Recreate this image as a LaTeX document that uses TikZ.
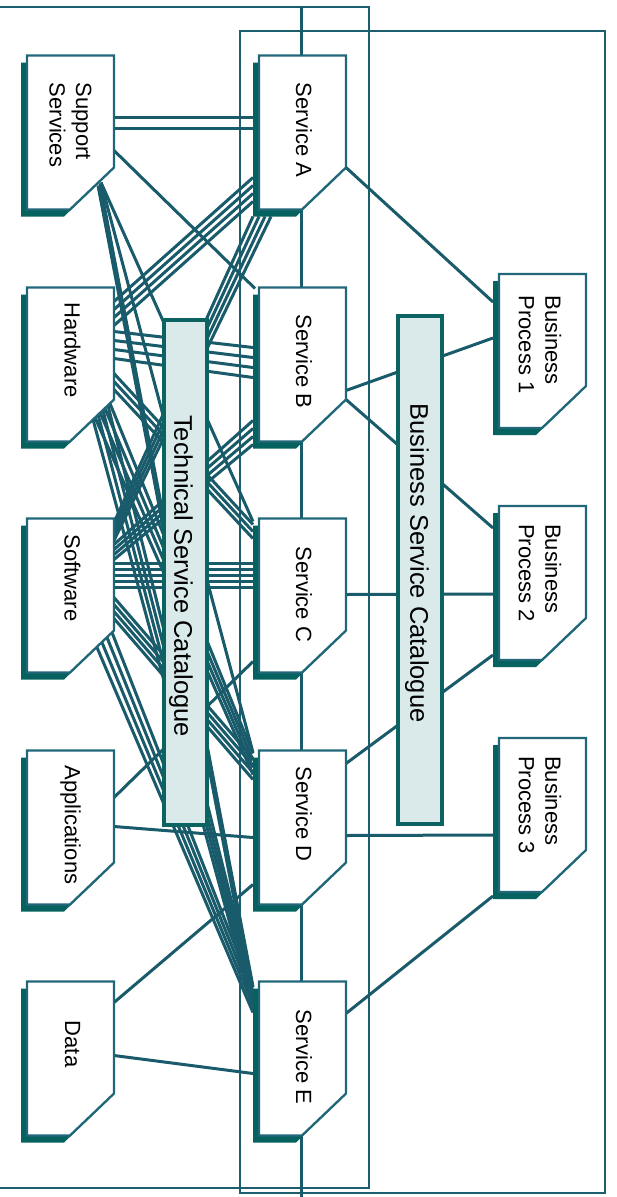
\documentclass[tikz,border=0pt]{standalone}
\usepackage{fontspec}
\setmainfont{Liberation Sans}
\definecolor{linkc}{HTML}{195B6B}
\definecolor{framec}{HTML}{1C5E6C}
\definecolor{edgec}{HTML}{21677A}
\definecolor{shadowc}{HTML}{05625F}
\definecolor{catedge}{HTML}{0B6462}
\definecolor{catfill}{HTML}{DAEAEA}

% chamfered component box with its offset drop shadow
\newcommand{\chamferbox}[1]{%
  \fill[shadowc] ([shift={(-6,7)}]#1.north west) -- ([shift={(-6,7)}]#1.north east)
     -- ([shift={(-6,-35)}]#1.south east) -- ([shift={(-50,7)}]#1.south east)
     -- ([shift={(-6,7)}]#1.south west) -- cycle;
  \draw[edgec,line width=2.3pt,fill=white,line join=miter] (#1.north west) -- (#1.north east)
     -- ([shift={(0,-42)}]#1.south east) -- ([shift={(-44,0)}]#1.south east)
     -- (#1.south west) -- cycle;}

\begin{document}
\begin{tikzpicture}[x=1pt,y=-1pt,
  linkline/.style={draw=linkc,line width=3pt},
  outerframe/.style={draw=framec,line width=2.5pt},
  spineline/.style={draw=linkc,line width=3.3pt},
  compbox/.style={rectangle,inner sep=0pt,outer sep=0pt,minimum width=87pt,minimum height=154pt},
  catbox/.style={rectangle,draw=catedge,line width=4pt,fill=catfill,inner sep=0pt,outer sep=0pt},
  boxtext/.style={rotate=-90,font=\fontsize{22}{26.5}\selectfont,align=left,inner sep=0pt,text=black},
  cattext/.style={rotate=-90,font=\fontsize{25.5}{30}\selectfont,inner sep=0pt,text=black}
]
\useasboundingbox (0,0) rectangle (617,1197);
\fill[white] (0,0) rectangle (617,1197);
\clip (0,0) rectangle (617,1197);

% component placeholders (outlines drawn later, on top of the wiring)
\node[compbox] (ss) at (70.5,132.5) {};
\node[compbox] (hw) at (70.5,364.5) {};
\node[compbox] (sw) at (70.5,595.5) {};
\node[compbox] (ap) at (70.5,827.5) {};
\node[compbox] (dt) at (70.5,1058.5) {};
\node[compbox] (sa) at (302.5,132.5) {};
\node[compbox] (sb) at (302.5,364.5) {};
\node[compbox] (sc) at (302.5,595.5) {};
\node[compbox] (sd) at (302.5,827.5) {};
\node[compbox] (se) at (302.5,1058.5) {};
\node[compbox] (bp1) at (542.5,351) {};
\node[compbox] (bp2) at (542.5,583) {};
\node[compbox] (bp3) at (542.5,815) {};

% grouping frames
\draw[outerframe] (-5,7) rectangle (369,1188);
\draw[outerframe] (240,31) rectangle (605,1193);

% service spine
\coordinate (spinetop) at (301.5,7);
\coordinate (spinebot) at (301.5,1199);
\draw[spineline] (spinetop) -- (spinebot);

% Support Services
\foreach \a in {62,73}
  \draw[linkline] ([shift={(0,\a)}]ss.north east) -- ([shift={(-6,\a)}]sa.north west);
\draw[linkline] ([shift={(0,95)}]ss.north east) -- ([shift={(-4,1)}]sb.north west);
\foreach \a/\b/\t/\c in {-13/-27/sc/3, -13/-27/sd/2, -14/-26/se/5, -16/-24/se/17}
  \draw[linkline] ([shift={(\a,\b)}]ss.south east) -- ([shift={(-6,\c)}]\t.north west);

% Hardware
\foreach \a/\b in {14/122,22/130,30/138,38/146}
  \draw[linkline] ([shift={(0,\a)}]hw.north east) -- ([shift={(-6,\b)}]sa.north west);
\foreach \a/\b in {44/60,53/70,62/80,71/90}
  \draw[linkline] ([shift={(0,\a)}]hw.north east) -- ([shift={(-6,\b)}]sb.north west);
\foreach \a/\b in {86/6,94/13,102/20}
  \draw[linkline] ([shift={(0,\a)}]hw.north east) -- ([shift={(-6,\b)}]sc.north west);
\foreach \a/\b/\c in {-4/-38/3,-9/-33/10,-14/-29/17,-19/-24/24}
  \draw[linkline] ([shift={(\a,\b)}]hw.south east) -- ([shift={(-6,\c)}]sd.north west);
\foreach \a/\b/\c in {-6/-36/6,-11/-31/13,-16/-27/20,-21/-22/27}
  \draw[linkline] ([shift={(\a,\b)}]hw.south east) -- ([shift={(-6,\c)}]se.north west);

% Software
\foreach \a/\b in {4/-6,10/0,16/6,22/12}
  \draw[linkline] ([shift={(0,\a)}]sw.north east) -- ([shift={(\b,7)}]sa.south west);
\foreach \a/\b in {26/133,31/141,36/149,41/157}
  \draw[linkline] ([shift={(0,\a)}]sw.north east) -- ([shift={(-6,\b)}]sb.north west);
\foreach \a in {45,51,57,63,69}
  \draw[linkline] ([shift={(0,\a)}]sw.north east) -- ([shift={(-6,\a)}]sc.north west);
\foreach \a/\b in {79/8,86/15,93/22,100/29}
  \draw[linkline] ([shift={(0,\a)}]sw.north east) -- ([shift={(-6,\b)}]sd.north west);
\foreach \a/\b/\c in {-2/-40/10,-7/-35/17,-12/-30/24,-17/-25/31}
  \draw[linkline] ([shift={(\a,\b)}]sw.south east) -- ([shift={(-6,\c)}]se.north west);

% Applications and Data
\draw[linkline] ([shift={(0,47)}]ap.north east) -- ([shift={(-6,-11)}]sc.south west);
\draw[linkline] ([shift={(0,76)}]ap.north east) -- ([shift={(-6,87)}]sd.north west);
\draw[linkline] ([shift={(0,21)}]dt.north east) -- ([shift={(-6,134)}]sd.north west);
\draw[linkline] ([shift={(0,74)}]dt.north east) -- ([shift={(-6,92)}]se.north west);

% services to business processes
\draw[linkline] ([shift={(0,-42)}]sa.south east) -- ([shift={(-6,28)}]bp1.north west);
\draw[linkline] ([shift={(0,103)}]sb.north east) -- ([shift={(-6,64)}]bp1.north west);
\draw[linkline] ([shift={(0,-42)}]sb.south east) -- ([shift={(-6,22)}]bp2.north west);
\draw[linkline] ([shift={(0,76)}]sc.north east) -- ([shift={(-6,88)}]bp2.north west);
\draw[linkline] ([shift={(0,13)}]sd.north east) -- ([shift={(-6,149)}]bp2.north west);
\draw[linkline] ([shift={(0,85)}]sd.north east) -- ([shift={(-6,97)}]bp3.north west);
\draw[linkline] ([shift={(0,32)}]se.north east) -- ([shift={(-6,4)}]bp3.south west);

% catalogues
\node[catbox,minimum width=43pt,minimum height=505pt] (tsc) at (185.5,572.5) {};
\node[catbox,minimum width=44pt,minimum height=508pt] (bsc) at (420,570) {};
\node[cattext] (tsc-t) at (181,576) {Technical Service Catalogue};
\node[cattext] (bsc-t) at (417,563) {Business Service Catalogue};

% component outlines
\foreach \n in {ss,hw,sw,ap,dt,sa,sb,sc,sd,se,bp1,bp2,bp3}
  {\chamferbox{\n}}

% component labels
\node[boxtext] (ss-t) at (70.5,125) {Support\\Services};
\node[boxtext] (hw-t) at (72.5,350) {Hardware};
\node[boxtext] (sw-t) at (72.5,578) {Software};
\node[boxtext] (ap-t) at (70.5,825) {Applications};
\node[boxtext] (dt-t) at (72.5,1044) {Data};
\node[boxtext] (sa-t) at (304,130) {Service A};
\node[boxtext] (sb-t) at (304,361.5) {Service B};
\node[boxtext] (sc-t) at (304,594.5) {Service C};
\node[boxtext] (sd-t) at (304,814) {Service D};
\node[boxtext] (se-t) at (304,1057) {Service E};
\node[boxtext] (bp1-t) at (540,344.5) {Business\\Process 1};
\node[boxtext] (bp2-t) at (540,573) {Business\\Process 2};
\node[boxtext] (bp3-t) at (540,805) {Business\\Process 3};
\end{tikzpicture}
\end{document}
